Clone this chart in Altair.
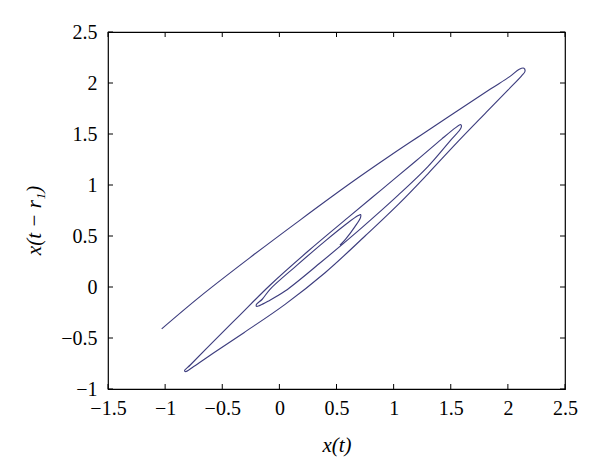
import altair as alt
import pandas as pd

# trajectory x(t) and x(t - r1)
x_vals = [-1.03, -0.695, -0.257, 0.181, 0.618, 0.968, 1.231, 1.467, 1.844, 2.019, 2.10,
          2.14, 2.15,
          2.12, 2.0, 1.8, 1.55, 1.30, 1.05, 0.75, 0.40, 0.05, -0.30, -0.58, -0.75, -0.82,
          -0.83,
          -0.78, -0.6, -0.35, -0.08, 0.25, 0.6, 0.9, 1.2, 1.42, 1.54, 1.58,
          1.59, 1.59,
          1.50, 1.30, 1.04, 0.71, 0.35, 0.05, -0.10, -0.17, -0.20,
          -0.20,
          -0.15, -0.08, 0.15, 0.40, 0.60, 0.69, 0.71,
          0.71, 0.66, 0.58, 0.53]
y_vals = [-0.41, -0.094, 0.288, 0.656, 1.014, 1.286, 1.483, 1.659, 1.938, 2.065, 2.135,
          2.145, 2.115,
          2.07, 1.93, 1.70, 1.41, 1.11, 0.82, 0.50, 0.14, -0.17, -0.44, -0.65, -0.78, -0.83,
          -0.82,
          -0.765, -0.56, -0.28, 0.02, 0.35, 0.68, 0.96, 1.24, 1.45, 1.56, 1.59,
          1.59, 1.56,
          1.44, 1.18, 0.90, 0.57, 0.23, -0.04, -0.14, -0.18, -0.19,
          -0.17,
          -0.12, -0.02, 0.21, 0.45, 0.63, 0.70, 0.71,
          0.68, 0.59, 0.47, 0.41]
x_ticks = [-1.5, -1, -0.5, 0, 0.5, 1, 1.5, 2, 2.5]
y_ticks = [-1, -0.5, 0, 0.5, 1, 1.5, 2, 2.5]

W, H = 457, 357
TL = 5
FONT = "Liberation Serif"

df = pd.DataFrame({"x": x_vals, "y": y_vals, "i": list(range(len(x_vals)))})
xs = alt.Scale(domain=[-1.5, 2.5], nice=False, zero=False)
ys = alt.Scale(domain=[-1, 2.5], nice=False, zero=False)

common_axis = dict(domain=False, ticks=False, grid=False, labelFont=FONT, labelFontSize=20,
                   labelColor="black", titleFont=FONT, titleFontSize=21, titleFontStyle="italic",
                   titleFontWeight="normal", titleColor="black", format="~g", labelFlush=False)
x_axis = alt.Axis(values=x_ticks, title="x(t)", labelPadding=9, titlePadding=16, **common_axis)
y_axis = alt.Axis(values=y_ticks, title="x(t − r₁)", labelPadding=11, titlePadding=16,
                  titleY=188, **common_axis)

line = alt.Chart(df).mark_line(color="#3d3d7e", strokeWidth=1.15,
                               interpolate="catmull-rom").encode(
    x=alt.X("x:Q", scale=xs, axis=x_axis),
    y=alt.Y("y:Q", scale=ys, axis=y_axis),
    order="i:Q",
)

xt = pd.DataFrame({"x": x_ticks})
yt = pd.DataFrame({"y": y_ticks})
bottom = alt.Chart(xt).mark_rule(color="black").encode(
    x=alt.X("x:Q", scale=xs, axis=x_axis), y=alt.value(H), y2=alt.value(H - TL))
top = alt.Chart(xt).mark_rule(color="black").encode(
    x=alt.X("x:Q", scale=xs, axis=x_axis), y=alt.value(0), y2=alt.value(TL))
left = alt.Chart(yt).mark_rule(color="black").encode(
    y=alt.Y("y:Q", scale=ys, axis=y_axis), x=alt.value(0), x2=alt.value(TL))
right = alt.Chart(yt).mark_rule(color="black").encode(
    y=alt.Y("y:Q", scale=ys, axis=y_axis), x=alt.value(W), x2=alt.value(W - TL))

chart = alt.layer(line, bottom, top, left, right).properties(
    width=W, height=H,
    autosize=alt.AutoSizeParams(type="none"),
    padding={"left": 100, "top": 24, "right": 27, "bottom": 77},
).configure_view(stroke="black", strokeWidth=1.2)

chart.save("out.html", embed_options={"renderer": "svg", "actions": False})
